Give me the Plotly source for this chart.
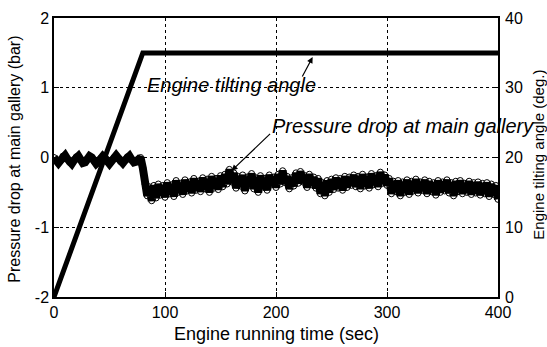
import plotly.graph_objects as go

# ---- data ----
time_s = [i * 2 for i in range(201)]
pressure_bar = [
    0.00, -0.05, -0.08, -0.04, 0.02, 0.03, -0.02, -0.07, -0.09, -0.04,
    0.01, 0.02, -0.03, -0.08, -0.07, -0.02, 0.02, 0.00, -0.05, -0.09,
    -0.06, -0.01, 0.02, -0.01, -0.06, -0.09, -0.05, 0.00, 0.03, -0.01,
    -0.06, -0.08, -0.04, 0.01, 0.02, -0.03, -0.07, -0.06, -0.02, 0.00,
    -0.15,
    -0.38, -0.55, -0.42, -0.62, -0.40, -0.58, -0.38, -0.54, -0.40, -0.57,
    -0.36, -0.52, -0.39, -0.56, -0.33, -0.50, -0.37, -0.53, -0.32, -0.48,
    -0.35, -0.51, -0.30, -0.47, -0.34, -0.49, -0.29, -0.45, -0.31, -0.50,
    -0.27, -0.44, -0.30, -0.46, -0.26, -0.42, -0.24, -0.38, -0.17, -0.35,
    -0.22, -0.44, -0.27, -0.41, -0.25, -0.48, -0.28, -0.40, -0.23, -0.45,
    -0.29, -0.50, -0.26, -0.42, -0.30, -0.47, -0.25, -0.39, -0.28, -0.43,
    -0.24, -0.38, -0.19, -0.36, -0.27, -0.45, -0.29, -0.41, -0.22, -0.37,
    -0.20, -0.35, -0.26, -0.43, -0.24, -0.39, -0.28, -0.44, -0.30, -0.52,
    -0.36, -0.55, -0.33, -0.50, -0.31, -0.46, -0.29, -0.44, -0.30, -0.47,
    -0.27, -0.43, -0.28, -0.40, -0.25, -0.42, -0.27, -0.45, -0.24, -0.41,
    -0.28, -0.44, -0.23, -0.39, -0.26, -0.42, -0.21, -0.37, -0.25, -0.40,
    -0.30, -0.52, -0.34, -0.49, -0.33, -0.55, -0.35, -0.50, -0.32, -0.53,
    -0.34, -0.48, -0.31, -0.51, -0.35, -0.47, -0.32, -0.52, -0.34, -0.49,
    -0.36, -0.54, -0.33, -0.50, -0.35, -0.48, -0.32, -0.51, -0.36, -0.55,
    -0.34, -0.49, -0.33, -0.52, -0.37, -0.50, -0.34, -0.53, -0.36, -0.51,
    -0.35, -0.54, -0.37, -0.52, -0.36, -0.56, -0.38, -0.53, -0.40, -0.60,
]
angle_time_s = [0, 80, 400]
angle_deg = [0, 35, 35]

x_ticks = [0, 100, 200, 300, 400]
y_ticks = [-2, -1, 0, 1, 2]
y_tick_text = ["-2", "-1", "0", "1", "2"]
y2_ticks = [0, 10, 20, 30, 40]

FONT = "Liberation Sans, Arial, sans-serif"

fig = go.Figure()
fig.add_trace(go.Scatter(
    x=time_s, y=pressure_bar, mode="markers",
    marker=dict(symbol="circle", size=6, color="white",
                line=dict(color="black", width=1)),
    showlegend=False, hoverinfo="skip"))
fig.add_trace(go.Scatter(
    x=time_s, y=pressure_bar, mode="lines",
    line=dict(color="black", width=8),
    showlegend=False))
fig.add_trace(go.Scatter(
    x=angle_time_s, y=angle_deg, mode="lines", yaxis="y2",
    line=dict(color="black", width=5),
    showlegend=False))

fig.update_layout(
    width=547, height=347,
    margin=dict(l=54, r=49, t=18, b=50, autoexpand=False),
    paper_bgcolor="white", plot_bgcolor="white",
    font=dict(family=FONT, size=16, color="black"),
    xaxis=dict(
        range=[0, 400], tickvals=x_ticks, ticks="inside", ticklen=5,
        tickcolor="black", showline=True, linecolor="black", linewidth=1.5,
        mirror=True, showgrid=True, gridcolor="black", griddash="dot",
        gridwidth=1, zeroline=False, automargin=False,
        tickfont=dict(size=16)),
    yaxis=dict(
        range=[-2, 2], tickvals=y_ticks, ticktext=y_tick_text,
        ticks="inside", ticklen=5, tickcolor="black",
        showline=True, linecolor="black", linewidth=1.5, mirror=True,
        showgrid=True, gridcolor="black", griddash="dot", gridwidth=1,
        zeroline=False, automargin=False,
        tickfont=dict(size=16)),
    yaxis2=dict(
        range=[0, 40], tickvals=y2_ticks, overlaying="y", side="right",
        ticks="inside", ticklen=5, tickcolor="black", showgrid=False,
        zeroline=False, showline=False, automargin=False,
        ticklabelstandoff=6, tickfont=dict(size=16)),
)

# axis titles
fig.add_annotation(
    x=0.5, y=0, xref="paper", yref="paper", yshift=-37, yanchor="middle",
    xanchor="center", showarrow=False,
    text="Engine running time (sec)", font=dict(size=18))
fig.add_annotation(
    x=0, y=0.492, xref="paper", yref="paper", xshift=-39, xanchor="center",
    yanchor="middle", showarrow=False,
    textangle=-90, text="Pressure drop at main gallery (bar)",
    font=dict(size=16))
fig.add_annotation(
    x=1, y=0.51, xref="paper", yref="paper", xshift=41, xanchor="center",
    yanchor="middle", showarrow=False,
    textangle=-90, text="Engine tilting angle (deg.)", font=dict(size=15))

# in-plot labels
fig.add_annotation(
    x=233, y=1.44, ax=223, ay=1.14, xref="x", yref="y", axref="x", ayref="y",
    showarrow=True, arrowhead=2, arrowsize=1, arrowwidth=1.2, arrowcolor="black",
    text="")
fig.add_annotation(
    x=160, y=1.04, xref="x", yref="y", showarrow=False,
    text="<i>Engine tilting angle</i>", font=dict(size=20, family=FONT))
fig.add_annotation(
    x=160, y=-0.19, ax=196, ay=0.36, xref="x", yref="y", axref="x", ayref="y",
    showarrow=True, arrowhead=2, arrowsize=1, arrowwidth=1.2, arrowcolor="black",
    text="")
fig.add_annotation(
    x=314, y=0.45, xref="x", yref="y", showarrow=False,
    text="<i>Pressure drop at main gallery</i>", font=dict(size=20, family=FONT))

fig.write_html("out.html", config={"displayModeBar": False},
               post_script="document.body.style.margin='0';")
